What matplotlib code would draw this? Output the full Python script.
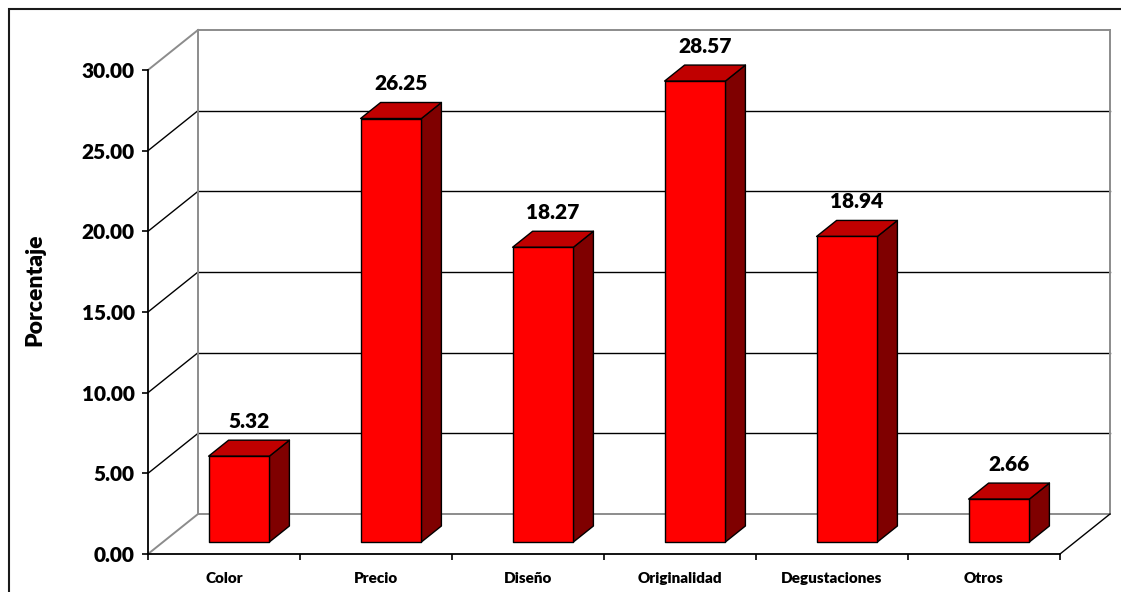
import matplotlib.pyplot as plt
from matplotlib.patches import Polygon, Rectangle

# Datos de la encuesta
categorias = ["Color", "Precio", "Diseño", "Originalidad", "Degustaciones", "Otros"]
porcentajes = [5.32, 26.25, 18.27, 28.57, 18.94, 2.66]
ticks_y = [0, 5, 10, 15, 20, 25, 30]

plt.rcParams['font.family'] = ['Lato', 'DejaVu Sans']
peso = 'heavy'

fig = plt.figure(figsize=(11.21, 5.92), dpi=100)
fig.patch.set_facecolor('white')

# Eje frontal (plano de profundidad 0)
ax = fig.add_axes([148 / 1121, 38 / 592, 912 / 1121, 484 / 592])
ax.set_xlim(0, len(categorias))
ax.set_ylim(0, 30)
ax.patch.set_alpha(0)

# Desplazamiento de profundidad (50 px a la derecha, 40 px hacia arriba)
DX = 50 / (912 / len(categorias))
DY = 40 / (484 / 30)


def proj(x, y, d):
    return (x + d * DX, y + d * DY)


n = len(categorias)
gris = '#8c8c8c'

# Pared del fondo y lineas de division
for v in ticks_y[1:-1]:
    ax.plot(*zip(proj(0, v, 1), proj(n, v, 1)), color='black', lw=1.0, zorder=1, clip_on=False)
    ax.plot(*zip(proj(0, v, 0), proj(0, v, 1)), color='black', lw=1.0, zorder=1, clip_on=False)
for v in (0, 30):
    ax.plot(*zip(proj(0, v, 1), proj(n, v, 1)), color=gris, lw=1.4, zorder=1, clip_on=False)
    ax.plot(*zip(proj(0, v, 0), proj(0, v, 1)), color=gris, lw=1.4, zorder=1, clip_on=False)
ax.plot(*zip(proj(0, 0, 1), proj(0, 30, 1)), color=gris, lw=1.4, zorder=1, clip_on=False)
ax.plot(*zip(proj(n, 0, 1), proj(n, 30, 1)), color=gris, lw=1.4, zorder=1, clip_on=False)
ax.plot(*zip(proj(n, 0, 0), proj(n, 0, 1)), color='black', lw=1.0, zorder=1, clip_on=False)

# Barras 3D
ancho = 0.40
d0, d1 = 0.3, 0.7
for i, v in enumerate(porcentajes):
    x0 = i + 0.5 - ancho / 2
    x1 = i + 0.5 + ancho / 2
    lado = [proj(x1, 0, d0), proj(x1, 0, d1), proj(x1, v, d1), proj(x1, v, d0)]
    tapa = [proj(x0, v, d0), proj(x1, v, d0), proj(x1, v, d1), proj(x0, v, d1)]
    frente = [proj(x0, 0, d0), proj(x1, 0, d0), proj(x1, v, d0), proj(x0, v, d0)]
    for pts, col in ((lado, '#7f0000'), (tapa, '#c00000'), (frente, '#ff0000')):
        ax.add_patch(Polygon(pts, closed=True, facecolor=col, edgecolor='black',
                             lw=1.0, joinstyle='round', zorder=3 + i, clip_on=False))
    ax.annotate(f"{v:.2f}", xy=proj(i + 0.5, v, 0.5), xytext=(0, 14.5),
                textcoords='offset points', ha='center', va='baseline',
                fontsize=15, fontweight=peso, annotation_clip=False, zorder=20)

# Ejes
for s in ('top', 'right'):
    ax.spines[s].set_visible(False)
ax.spines['left'].set_linewidth(1.3)
ax.spines['bottom'].set_linewidth(1.3)
ax.set_yticks(ticks_y)
ax.set_yticklabels([f"{t:.2f}" for t in ticks_y], fontsize=15, fontweight=peso)
ax.tick_params(axis='y', length=4.5, width=1.2, pad=5)
ax.set_xticks([i + 0.5 for i in range(n)])
ax.set_xticklabels(categorias, fontsize=11, fontweight=peso)
ax.set_xticks(range(n + 1), minor=True)
ax.tick_params(axis='x', which='major', length=0, pad=13)
ax.tick_params(axis='x', which='minor', length=4.5, width=1.2)
ax.set_ylabel("Porcentaje", fontsize=16.5, fontweight=peso)
ax.yaxis.set_label_coords(-0.112, 0.545)

# Marco exterior
fig.patches.append(Rectangle((9 / 1121, -0.1), 1.2, (583 / 592) + 0.1,
                             transform=fig.transFigure, fill=False,
                             edgecolor='#1a1a1a', lw=1.5))

fig.savefig("out.png", dpi=100)
